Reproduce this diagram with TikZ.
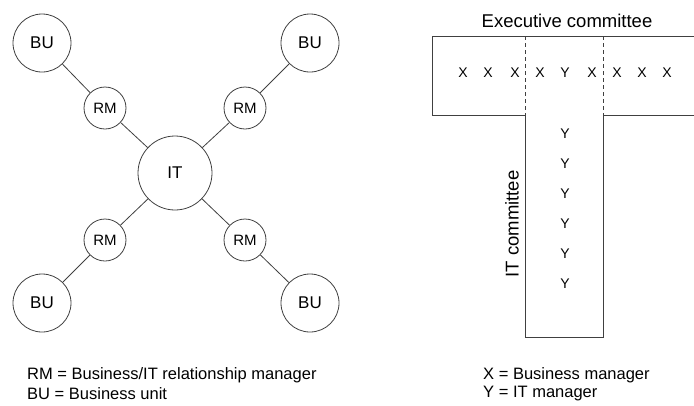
\documentclass[tikz,border=0pt]{standalone}
\usepackage{fontspec}
\setmainfont{Liberation Sans}
\begin{document}
\begin{tikzpicture}[x=1pt,y=-1pt,
  ink/.style={draw=black!75, line width=0.8pt},
  bunit/.style={ink, circle, minimum size=58pt, inner sep=0pt, font=\fontsize{17}{20}\selectfont},
  relmgr/.style={ink, circle, minimum size=42pt, inner sep=0pt, font=\fontsize{15}{18}\selectfont},
  hub/.style={ink, circle, minimum size=74pt, inner sep=0pt, font=\fontsize{17}{20}\selectfont},
  link/.style={draw=black!75, line width=0.8pt},
  member/.style={font=\fontsize{14}{16}\selectfont, inner sep=0pt},
  legend/.style={font=\fontsize{16.5}{19}\selectfont, anchor=west, inner sep=0pt},
  heading/.style={font=\fontsize{18.5}{21}\selectfont, inner sep=0pt}]
\useasboundingbox (0,0) rectangle (694,405);

% ---- hub-and-spoke model ----
\node[hub] (it) at (175,173) {IT};
\node[relmgr] (rmtl) at (105,108) {RM};
\node[relmgr] (rmtr) at (245,108) {RM};
\node[relmgr] (rmbl) at (105,240) {RM};
\node[relmgr] (rmbr) at (245,240) {RM};
\node[bunit] (butl) at (42,43) {BU};
\node[bunit] (butr) at (310,43) {BU};
\node[bunit] (bubl) at (42,303) {BU};
\node[bunit] (bubr) at (310,303) {BU};

\foreach \r/\b in {rmtl/butl, rmtr/butr, rmbl/bubl, rmbr/bubr}{
  \draw[link] (it) -- (\r);
  \draw[link] (\r) -- (\b);
}

\node[legend] (lrm) at (27,375) {RM = Business/IT relationship manager};
\node[legend] (lbu) at (27,394) {BU = Business unit};

% ---- T-shaped committee structure ----
\coordinate (tl) at (432,36);
\coordinate (tr) at (694,36);
\coordinate (bl) at (432,115);
\coordinate (br) at (694,115);
\coordinate (sl) at (525,115);
\coordinate (sr) at (603,115);
\coordinate (sbl) at (525,337);
\coordinate (sbr) at (603,337);
\coordinate (dl) at (525,36);
\coordinate (dr) at (603,36);

\draw[ink] (tr) -- (tl) -- (bl) -- (sl) -- (sbl) -- (sbr) -- (sr) -- (br);
\draw[ink, dashed, dash pattern=on 4pt off 3pt] (dl) -- (sl);
\draw[ink, dashed, dash pattern=on 4pt off 3pt] (dr) -- (sr);

\node[heading] (exec) at (567,21) {Executive committee};
\node[heading, rotate=90] (itc) at (512,224) {IT committee};

\foreach \x/\t [count=\i] in {463/X, 488/X, 515/X, 540/X, 565/Y, 592/X, 617/X, 642/X, 667/X}
  \node[member] (row\i) at (\x,73) {\t};
\foreach \y [count=\i] in {134,164,194,224,254,284}
  \node[member] (col\i) at (565,\y) {Y};

\node[legend] (lx) at (483,375) {X = Business manager};
\node[legend] (ly) at (483,394) {Y = IT manager};
\end{tikzpicture}
\end{document}
